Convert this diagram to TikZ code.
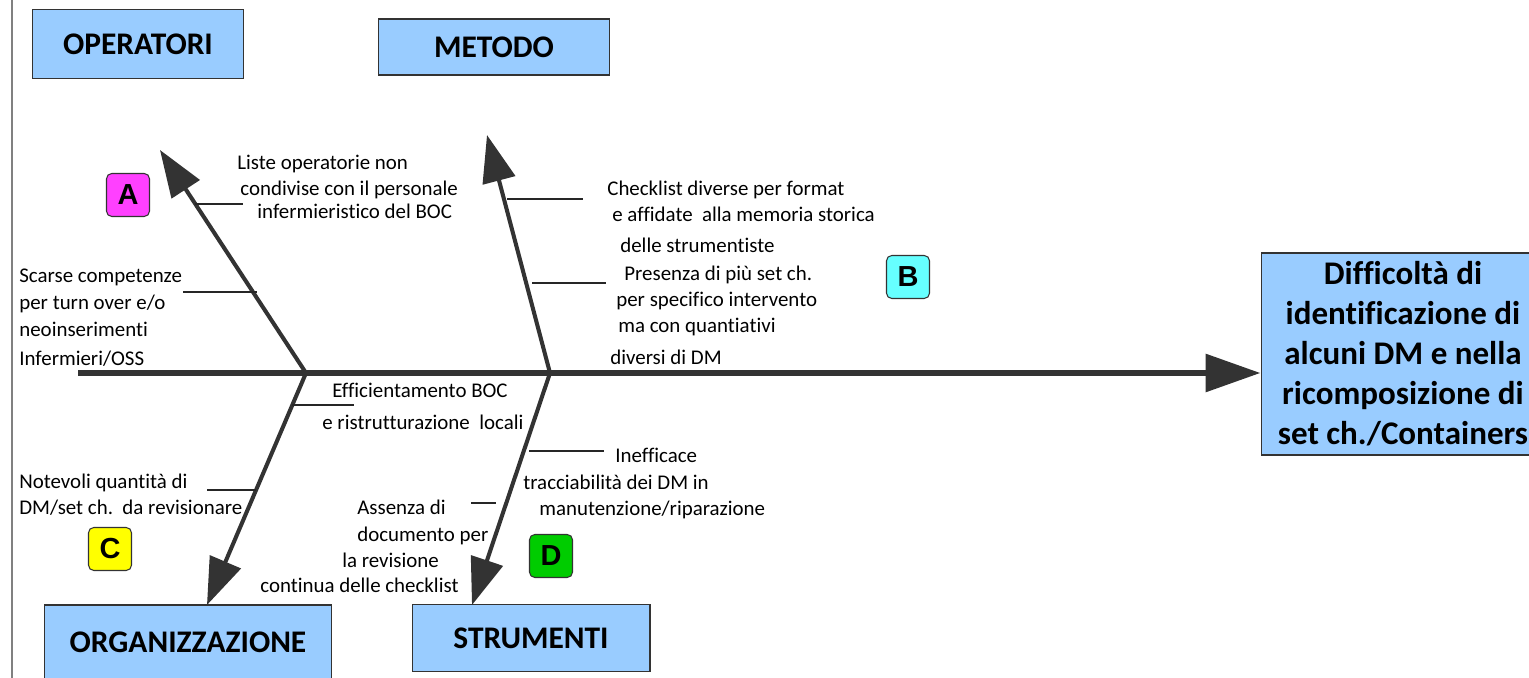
\documentclass[tikz,border=0pt]{standalone}
\usepackage{fontspec}
\setmainfont{Carlito}[Ligatures=NoCommon]
\newfontfamily\tagfont{Liberation Sans}
\usepackage{tikz}
\usetikzlibrary{arrows.meta}
\definecolor{boxblue}{HTML}{99CCFF}
\definecolor{bonegray}{HTML}{333333}
\definecolor{tagA}{HTML}{FF40FF}
\definecolor{tagB}{HTML}{66FFFF}
\definecolor{tagC}{HTML}{FFFF00}
\definecolor{tagD}{HTML}{00CC00}

\begin{document}
\begin{tikzpicture}[x=0.02cm, y=-0.02cm,
		catbox/.style={draw=bonegray, line width=0.6pt, fill=boxblue, inner sep=0pt, font=\fontsize{17.9}{21}\selectfont\bfseries},
		tagbox/.style={draw=bonegray, line width=0.6pt, rounded corners=3pt, minimum size=0.86cm, inner sep=0pt, font=\tagfont\fontsize{16.5}{18}\selectfont\bfseries},
		cause/.style={anchor=base west, inner sep=0pt, font=\fontsize{11.9}{14}\selectfont},
		spine/.style={draw=bonegray, line width=3.6pt, -{Triangle[length=1.1cm, width=0.74cm]}},
		branch/.style={draw=bonegray, line width=2.3pt, -{Triangle[length=0.94cm, width=0.66cm]}},
		rib/.style={draw=black!85, line width=0.6pt}]
		\useasboundingbox (0,0) rectangle (1529,678);
		\coordinate (f0) at (12,0);
		\coordinate (f1) at (12,678);
		\draw[gray, line width=1.2pt] (f0) -- (f1);

		\node[catbox, minimum width=4.22cm, minimum height=1.38cm] (oper) at (138,44) {OPERATORI};
		\node[catbox, minimum width=4.62cm, minimum height=1.12cm] (meto) at (494,47) {METODO};
		\node[catbox, minimum width=5.74cm, minimum height=1.48cm] (orga) at (188,642) {ORGANIZZAZIONE};
		\node[catbox, minimum width=4.76cm, minimum height=1.34cm] (stru) at (531,638) {STRUMENTI};
		\node[catbox, minimum width=5.68cm, minimum height=4.04cm, align=center, font=\fontsize{18.8}{22.8}\selectfont\bfseries] (effe) at (1403,354)
			{Difficoltà di\\ identificazione di\\ alcuni DM e nella\\ ricomposizione di\\ set ch./Containers};

		\node[tagbox, fill=tagA] (tA) at (128,195) {A};
		\node[tagbox, fill=tagB] (tB) at (908,277) {B};
		\node[tagbox, fill=tagC] (tC) at (110,549) {C};
		\node[tagbox, fill=tagD] (tD) at (551,556) {D};

		\coordinate (s0) at (78,373);
		\coordinate (jA) at (306,373);
		\coordinate (jB) at (550,373);
		\coordinate (hA) at (160,150);
		\coordinate (hB) at (487,135);
		\coordinate (hC) at (207,605);
		\coordinate (hD) at (472,605);
		\draw[spine] (s0) -- (s0 -| effe.west);
		\draw[branch] (jA) -- (hA);
		\draw[branch] (jB) -- (hB);
		\draw[branch] (jA) -- (hC);
		\draw[branch] (jB) -- (hD);

		\foreach \n/\xa/\xb/\y in {1/195/243/204, 2/183/257/292, 3/507/583/199, 4/532/606/283,
			5/292/354/405, 6/207/256/490, 7/529/604/451, 8/471/496/503}
		{
			\coordinate (r\n a) at (\xa,\y);
			\coordinate (r\n b) at (\xb,\y);
			\draw[rib] (r\n a) -- (r\n b);
		}

		\foreach \n/\x/\y/\t in {
			1/237/170/{Liste operatorie non},
			2/240/196/{condivise con il personale},
			3/257/219/{infermieristico del BOC},
			4/19/283/{Scarse competenze},
			5/19/310/{per turn over e/o},
			6/19/337/{neoinserimenti},
			7/19/366/{Infermieri/OSS},
			8/607/196/{Checklist diverse per format},
			9/612/222/{e affidate\ \ alla memoria storica},
			10/620/253/{delle strumentiste},
			11/624/281/{Presenza di più set ch.},
			12/616/307/{per specifico intervento},
			13/618/333/{ma con quantiativi},
			14/610/365/{diversi di DM},
			15/332/398/{Efficientamento BOC},
			16/322/430/{e ristrutturazione\ \ locali},
			17/19/489/{Notevoli quantità di},
			18/19/515/{DM/set ch.\ \ da revisionare},
			19/615/463/{Inefficace},
			20/523/490/{tracciabilità dei DM in},
			21/539/516/{manutenzione/riparazione},
			22/357/515/{Assenza di},
			23/357/542/{documento per},
			24/342/568/{la revisione},
			25/260/593/{continua delle checklist}}
		{
			\node[cause] (c\n) at (\x,\y) {\t};
		}
	\end{tikzpicture}
\end{document}
